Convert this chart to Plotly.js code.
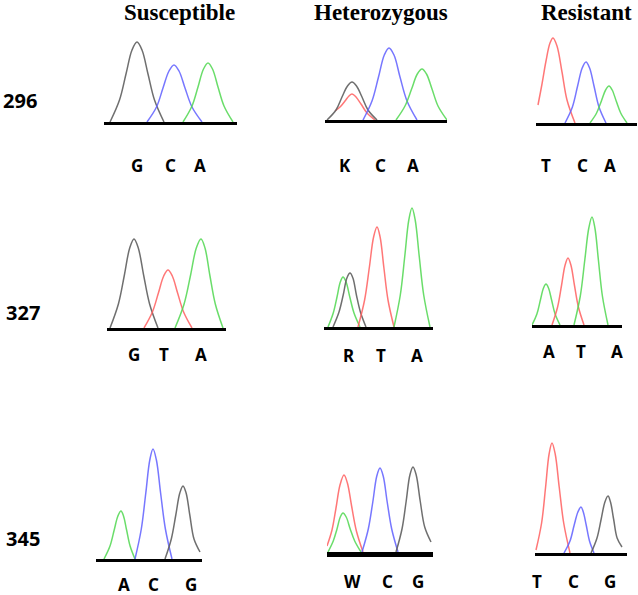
<!DOCTYPE html>
<html><head><meta charset="utf-8">
<script src="https://cdn.plot.ly/plotly-3.0.1.min.js"></script>
<style>html,body{margin:0;padding:0;background:#fff}#chart{width:638px;height:595px}</style>
</head><body><div id="chart"></div>
<script>
// ---------- DATA ----------
const positions = ['296', '327', '345'];
const genotypes = ['Susceptible', 'Heterozygous', 'Resistant'];
const calls296 = [['G','C','A'], ['K','C','A'], ['T','C','A']];
const calls327 = [['G','T','A'], ['R','T','A'], ['A','T','A']];
const calls345 = [['A','C','G'], ['W','C','G'], ['T','C','G']];

// chromatogram peaks: dye, scan position (x), signal intensity (y)
const peaks296Sus = [
  {dye:'G', x:[6,15.5,22,28,33,38,44,50.5,60],      y:[0,22,48,72,80,72,48,22,0]},
  {dye:'C', x:[43,52.5,59,65,70,75,81,88,98],       y:[0,15,34,51,57,51,34,15,0]},
  {dye:'A', x:[79,88,94,99.5,104,108.5,114,120,129], y:[0,16,35,53,59,53,35,16,0]}
];
const peaks296Het = [
  {dye:'T', x:[10,15,20,24,27,31,36,42,50],         y:[9,13,19,24,26,23,16,7,0]},
  {dye:'G', x:[2,11,17,22.5,27,31.5,37,43,52],      y:[0,10,23,34,38,34,23,10,0]},
  {dye:'C', x:[38,47,53.5,59.3,64,69,75,82,92],     y:[0,19,43,65,72,65,43,19,0]},
  {dye:'A', x:[71,80,86.6,92.3,97,101.5,107,113,122], y:[0,14,31,46,51,46,31,14,0]}
];
const peaks296Res = [
  {dye:'T', x:[2,6,10,14,17,21,26,31,39],           y:[18,39,62,80,85,77,51,23,0]},
  {dye:'C', x:[29,36.4,41.6,46.2,50,53.6,58,63,70], y:[0,16,37,55,61,55,37,16,0]},
  {dye:'A', x:[54,60.6,65.4,69.6,73,76.2,80.2,84.7,91], y:[0,10,22,33,37,33,22,10,0]}
];
const peaks327Sus = [
  {dye:'G', x:[3,11.4,17.4,22.7,27,31.3,36.6,42.6,51], y:[0,24,53,80,89,80,53,24,0]},
  {dye:'T', x:[37,45.4,51.4,56.7,61,65.3,70.6,76.6,85], y:[0,16,35,52,58,52,35,16,0]},
  {dye:'A', x:[68,77.1,83.6,89.3,94,98,102.8,108.3,116], y:[0,24,53,80,89,80,53,24,0]}
];
const peaks327Het = [
  {dye:'A', x:[4,9.25,13,16.3,19,22.1,25.8,30,36],  y:[0,14,30,45,50,45,30,14,0]},
  {dye:'G', x:[9,15,19.2,22.9,26,28.9,32.4,36.4,42], y:[0,15,32,49,54,49,32,15,0]},
  {dye:'T', x:[34,40.6,45.4,49.6,53,56.1,59.8,64,70], y:[0,27,60,90,100,90,60,27,0]},
  {dye:'A', x:[70,76.3,80.8,84.8,88,91.2,95.2,99.7,106], y:[0,32,71,107,119,107,71,32,0]}
];
const peaks327Res = [
  {dye:'A', x:[0,4.9,8.4,11.5,14,16.5,19.6,23.1,28], y:[0,11,25,37,41,37,25,11,0]},
  {dye:'T', x:[20,25.6,29.6,33.1,36,38.9,42.4,46.4,52], y:[0,18,40,60,67,60,40,18,0]},
  {dye:'A', x:[42,48.3,52.8,56.8,60,62.9,66.4,70.4,76], y:[0,29,65,97,108,97,65,29,0]}
];
const peaks345Sus = [
  {dye:'A', x:[8,14,18.2,21.9,25,27.5,30.6,34.1,39], y:[0,13,29,43,48,43,29,13,0]},
  {dye:'C', x:[39,45.3,49.8,53.8,57,60.4,64.6,69.4,76], y:[0,30,66,99,110,99,66,30,0]},
  {dye:'G', x:[69,75.3,79.8,83.8,87,90.1,93.8,98,104], y:[0,20,44,66,73,66,44,20,7]}
];
const peaks345Het = [
  {dye:'T', x:[0,5,9,13,17,20.4,24.6,29.4,36],      y:[6,22,44,67,77,69,46,21,0]},
  {dye:'A', x:[1,6.25,10,13.3,16,19.2,23.2,27.7,34], y:[0,11,23,35,39,35,23,11,0]},
  {dye:'C', x:[35,41.3,45.8,49.8,53,56.2,60.2,64.7,71], y:[0,23,50,76,84,76,50,23,0]},
  {dye:'G', x:[69,75,79.2,82.9,86,89.2,93.2,97.7,104], y:[0,23,51,77,85,77,51,25,10]}
];
const peaks345Res = [
  {dye:'T', x:[1,6.6,10.6,14.1,17,20.2,24.2,28.7,35], y:[3,30,66,99,110,99,66,30,0]},
  {dye:'C', x:[29,35,39.2,42.9,46,48.3,51.2,54.5,59], y:[0,12,28,41,46,41,28,12,0]},
  {dye:'G', x:[56,62,66.2,69.9,73,75.5,78.6,82.1,87], y:[0,15,34,51,57,51,34,15,6]}
];

// ---------- LAYOUT / STYLE ----------
const W = 638, H = 595;
const dyeColor = {G:'rgba(95,95,95,0.9)', C:'rgba(95,95,255,0.85)', A:'rgba(80,215,80,0.85)', T:'rgba(255,95,95,0.85)'};
const panelPeaks = [
  [peaks296Sus, peaks296Het, peaks296Res],
  [peaks327Sus, peaks327Het, peaks327Res],
  [peaks345Sus, peaks345Het, peaks345Res]
];
const panelCalls = [calls296, calls327, calls345];
// pixel frames: baseline left, right, baseline y, height of plotting box, baseline width
const frames = [
  [{L:104,R:237,by:122,T:100,lw:3}, {L:325,R:447,by:120,T:100,lw:3}, {L:536,R:637,by:123,T:100,lw:3}],
  [{L:107,R:226,by:328,T:130,lw:3}, {L:324,R:433,by:327,T:130,lw:3}, {L:532,R:622,by:325,T:130,lw:3}],
  [{L:96,R:202,by:559,T:130,lw:3},  {L:327,R:433,by:552,T:130,lw:5}, {L:535,R:627,by:553,T:130,lw:3}]
];
const callX = [
  [[137,170,200], [345,381,413], [546,582,610]],
  [[134,164,201], [349,381,417], [549,581,617]],
  [[124,153,191], [353,387,418], [537,573,610]]
];
const callY = [[165,165,165],[354,355,351],[584,581,581]];
const titleX = [180, 381, 586];
const rowLabel = [{x:20,y:100},{x:23,y:312},{x:23,y:538}];

const traces = [];
const layout = {
  width: W, height: H,
  margin: {l:0, r:0, t:0, b:0},
  paper_bgcolor: '#fff', plot_bgcolor: 'rgba(0,0,0,0)',
  showlegend: false,
  annotations: []
};

let n = 0;
for (let r = 0; r < 3; r++) {
  for (let c = 0; c < 3; c++) {
    n++;
    const f = frames[r][c];
    const xa = 'xaxis' + (n === 1 ? '' : n), ya = 'yaxis' + (n === 1 ? '' : n);
    const xr = 'x' + (n === 1 ? '' : n), yr = 'y' + (n === 1 ? '' : n);
    layout[xa] = {
      domain: [f.L / W, f.R / W], range: [0, f.R - f.L], anchor: yr,
      showline: true, linecolor: '#000', linewidth: f.lw, mirror: false,
      showgrid: false, zeroline: false, showticklabels: false, ticks: '', fixedrange: true
    };
    layout[ya] = {
      domain: [1 - f.by / H, 1 - (f.by - f.T) / H], range: [0, f.T], anchor: xr,
      visible: false, showgrid: false, zeroline: false, fixedrange: true
    };
    panelPeaks[r][c].forEach(p => {
      traces.push({
        type: 'scatter', mode: 'lines', x: p.x, y: p.y, xaxis: xr, yaxis: yr,
        line: {color: dyeColor[p.dye], width: 1.5, shape: 'spline', smoothing: 1},
        hoverinfo: 'skip', showlegend: false
      });
    });
    panelCalls[r][c].forEach((b, i) => {
      layout.annotations.push({
        text: b, xref: 'paper', yref: 'paper', x: callX[r][c][i] / W, y: 1 - callY[r][c] / H,
        xanchor: 'center', yanchor: 'middle', showarrow: false,
        font: {family: 'Noto Sans, DejaVu Sans, sans-serif', size: 17, color: '#000', weight: 'bold'}
      });
    });
  }
}
genotypes.forEach((g, i) => {
  layout.annotations.push({
    text: '<b>' + g + '</b>', xref: 'paper', yref: 'paper', x: titleX[i] / W, y: 1 - 12 / H,
    xanchor: 'center', yanchor: 'middle', showarrow: false,
    font: {family: 'Liberation Serif, Times New Roman, serif', size: 23, color: '#000'}
  });
});
positions.forEach((p, i) => {
  layout.annotations.push({
    text: '<b>' + p + '</b>', xref: 'paper', yref: 'paper', x: rowLabel[i].x / W, y: 1 - rowLabel[i].y / H,
    xanchor: 'center', yanchor: 'middle', showarrow: false,
    font: {family: 'Noto Sans, DejaVu Sans, sans-serif', size: 20, color: '#000'}
  });
});

Plotly.newPlot('chart', traces, layout, {displayModeBar: false, staticPlot: true});
</script>
</body></html>
